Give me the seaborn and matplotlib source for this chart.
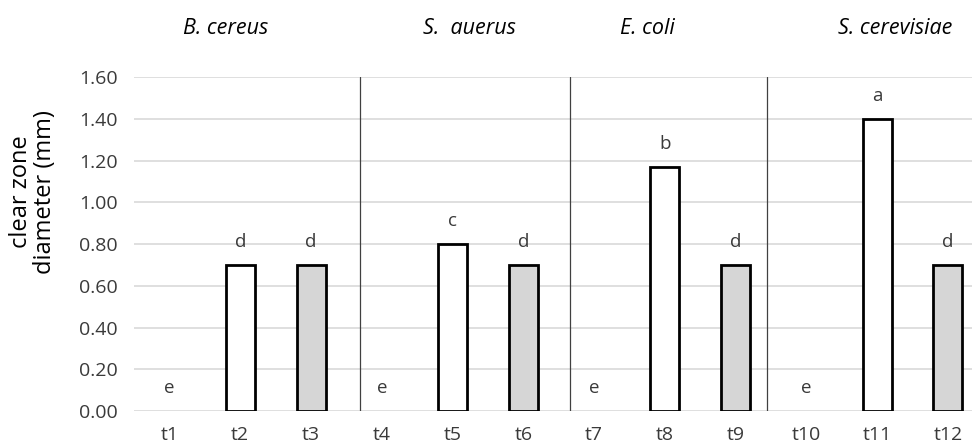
import numpy as np
import pandas as pd
import seaborn as sns
import matplotlib.pyplot as plt

## data
treatments = ["t1", "t2", "t3", "t4", "t5", "t6", "t7", "t8", "t9", "t10", "t11", "t12"]
diameter = [0.0, 0.70, 0.70, 0.0, 0.80, 0.70, 0.0, 1.17, 0.70, 0.0, 1.40, 0.70]
letters = ["e", "d", "d", "e", "c", "d", "e", "b", "d", "e", "a", "d"]
fills = ["white", "white", "#d6d6d6", "white", "white", "#d6d6d6",
         "white", "white", "#d6d6d6", "white", "white", "#d6d6d6"]
organisms = ["B. cereus", "S.  auerus", "E. coli", "S. cerevisiae"]
organism_pos = [0.79, 4.24, 6.75, 10.25]
dividers = [2.69, 5.66, 8.45]

df = pd.DataFrame({"treatment": treatments, "diameter": diameter})

sns.set_style("white")
plt.rcParams["font.family"] = ["Open Sans", "DejaVu Sans"]
txt = "#3a3a3a"

fig = plt.figure(figsize=(9.72, 4.46), dpi=100)
ax = fig.add_axes([0.138, 0.0785, 0.862, 0.7485])

sns.barplot(data=df, x="treatment", y="diameter", hue="treatment",
            palette=fills, legend=False, width=0.41,
            edgecolor="black", linewidth=2, ax=ax)

# hide zero-height bars so no outline shows on the baseline
for p in ax.patches:
    if p.get_height() == 0:
        p.set_visible(False)

## significance letters
for i, (v, l) in enumerate(zip(diameter, letters)):
    ax.text(i, v + 0.11, l, ha="center", va="center", fontsize=13.5, color=txt)

## organism group separators and titles
for d in dividers:
    ax.plot([d, d], [0, 1.6], color="#404040", lw=0.9)

for name, xpos in zip(organisms, organism_pos):
    ax.annotate(name, xy=(xpos, 0.935), xycoords=("data", "figure fraction"),
                ha="center", va="center", fontsize=15.5, style="italic", color="black")

ax.set_ylim(0, 1.6)
ax.set_xlim(-0.5, 11.34)
ax.set_yticks(np.arange(0, 1.61, 0.2))
ax.set_yticklabels([f"{t:.2f}" for t in np.arange(0, 1.61, 0.2)])
ax.yaxis.grid(True, color="#d9d9d9", lw=1.2)
ax.set_axisbelow(True)
sns.despine(ax=ax, left=True, bottom=True, top=True, right=True)
ax.tick_params(axis="both", length=0, labelsize=14, colors=txt)
ax.tick_params(axis="x", pad=11)
ax.tick_params(axis="y", pad=12)
ax.set_xlabel("")
ax.set_ylabel("")
fig.text(0.034, 0.57, "clear zone\ndiameter (mm)", rotation=90, ha="center", va="center",
         fontsize=17, color="black", linespacing=1.0)

fig.savefig("out.png", dpi=100)
